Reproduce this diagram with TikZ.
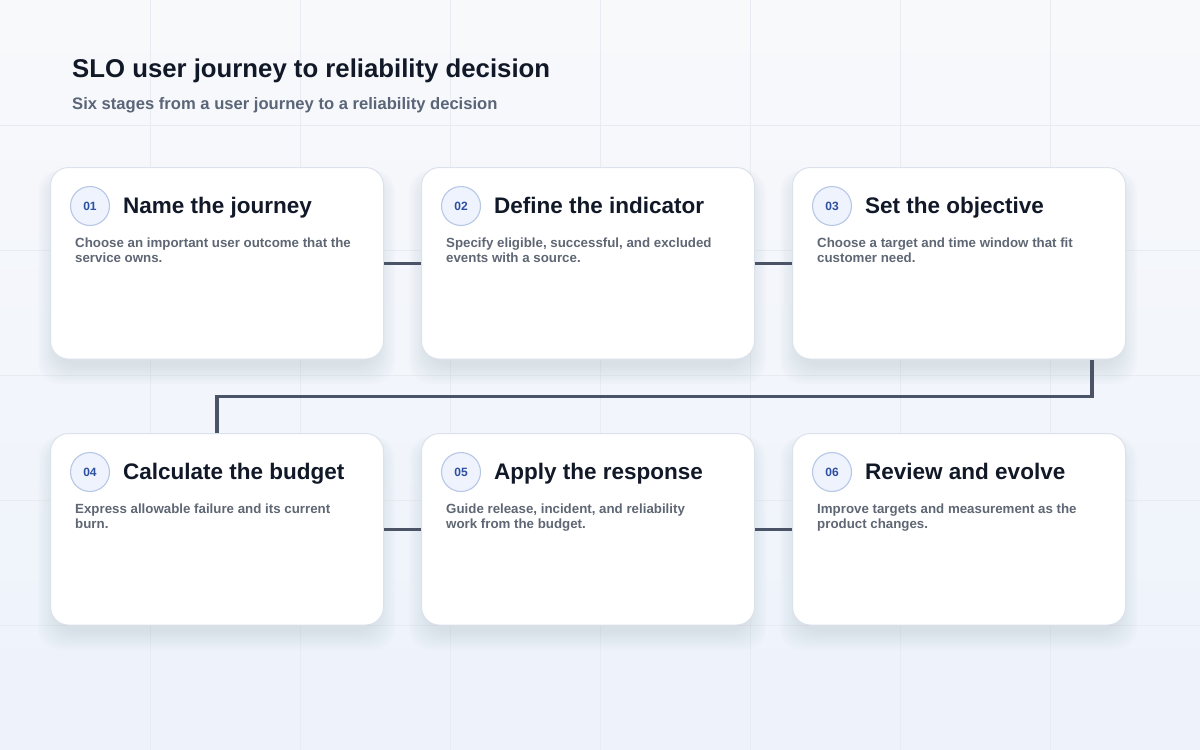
\documentclass[tikz,border=0pt]{standalone}
\usepackage{fontspec}
\setmainfont{Liberation Sans}
\definecolor{mInk}{HTML}{111827}
\definecolor{mSlate}{HTML}{5B6578}
\definecolor{mText}{HTML}{5F6774}
\definecolor{mLink}{HTML}{4A5466}
\definecolor{mBlue}{HTML}{2D4FA0}
\definecolor{mBadge}{HTML}{EEF3FD}
\definecolor{mBadgeLine}{HTML}{B7C7E6}
\definecolor{mBorder}{HTML}{DCE2EB}
\definecolor{mGrid}{HTML}{E8ECF2}
\definecolor{mBgTop}{HTML}{F8F9FB}
\definecolor{mBgBot}{HTML}{EDF2FB}
\definecolor{mShadow}{HTML}{64748B}
\usetikzlibrary{calc, positioning}
\begin{document}
\begin{tikzpicture}[x=1pt, y=-1pt,
		card/.style={draw=mBorder, line width=1pt, fill=white, rounded corners=18pt, minimum width=333pt, minimum height=191.5pt, anchor=north west, inner sep=0pt},
		haze/.style={fill=mShadow, opacity=0.016, rounded corners=22pt},
		badge/.style={circle, draw=mBadgeLine, line width=1.1pt, fill=mBadge, minimum size=39pt, inner sep=0pt, font=\fontsize{12}{12}\selectfont\bfseries, text=mBlue},
		heading/.style={anchor=base west, inner sep=0pt, font=\fontsize{22.5}{24}\selectfont\bfseries, text=mInk},
		blurb/.style={anchor=north west, inner sep=0pt, align=left, font=\fontsize{13.3}{15}\selectfont\bfseries, text=mText},
		link/.style={draw=mLink, line width=3.5pt}]
		\useasboundingbox (0,0) rectangle (1200,750);
		\shade[top color=mBgTop, bottom color=mBgBot] (0,0) rectangle (1200,750);
		% faint grid
		\foreach \gx in {150,300,...,1050}
		{\draw[mGrid, line width=0.8pt] (\gx,0) -- (\gx,750);}
		\foreach \gy in {125,250,...,625}
		{\draw[mGrid, line width=0.8pt] (0,\gy) -- (1200,\gy);}
		\node[anchor=base west, inner sep=0pt, font=\fontsize{25.75}{28}\selectfont\bfseries, text=mInk] (title) at (72,77) {SLO user journey to reliability decision};
		\node[anchor=base west, inner sep=0pt, font=\fontsize{16.6}{18}\selectfont\bfseries, text=mSlate] (subtitle) at (72,109) {Six stages from a user journey to a reliability decision};
		\foreach \i/\x/\y/\head/\lineA/\lineB in {
			1/50/167/{Name the journey}/{Choose an important user outcome that the}/{service owns.},
			2/421/167/{Define the indicator}/{Specify eligible, successful, and excluded}/{events with a source.},
			3/792/167/{Set the objective}/{Choose a target and time window that fit}/{customer need.},
			4/50/433/{Calculate the budget}/{Express allowable failure and its current}/{burn.},
			5/421/433/{Apply the response}/{Guide release, incident, and reliability}/{work from the budget.},
			6/792/433/{Review and evolve}/{Improve targets and measurement as the}/{product changes.}
		}{
			% soft shadow under the card
			\foreach \k in {0,2,...,18}
			{\fill[haze] ({\x+6-\k}, {\y+12-0.5*\k}) rectangle ({\x+327+\k}, {\y+199+\k});}
			\node[card] (c\i) at (\x,\y) {};
			\node[badge] (b\i) at ([shift={(40,39)}]c\i.north west) {0\i};
			\node[heading] (t\i) at ([shift={(73,46)}]c\i.north west) {\head};
			\node[blurb] (d\i) at ([shift={(25,71)}]c\i.north west) {\lineA\\\lineB};
		}
		\draw[link] (c1.east) -- (c2.west);
		\draw[link] (c2.east) -- (c3.west);
		\draw[link] ([xshift=-34pt]c3.south east) -- ++(0,37) -| (c4.north);
		\draw[link] (c4.east) -- (c5.west);
		\draw[link] (c5.east) -- (c6.west);
	\end{tikzpicture}
\end{document}
